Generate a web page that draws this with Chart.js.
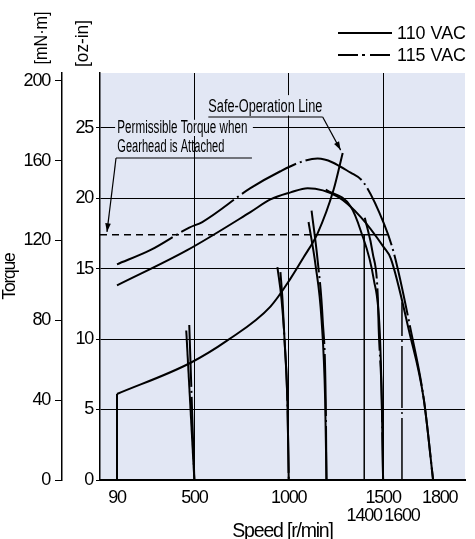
<!DOCTYPE html>
<html><head><meta charset="utf-8">
<script src="https://cdn.jsdelivr.net/npm/chart.js@4.4.0/dist/chart.umd.min.js"></script>
<style>html,body{margin:0;padding:0;background:#fff}#wrap{width:475px;height:539px;position:relative}</style>
</head><body><div id="wrap"><canvas id="c" width="475" height="539"></canvas></div>
<script>
// ---------------- data : speed [r/min] , torque [oz-in] ----------------
const speedTicks = [90, 500, 1000, 1400, 1500, 1600, 1800];
const lowerRowTicks = [1400, 1600];
const gridSpeeds = [500, 1000, 1500];
const ozTicks = [0, 5, 10, 15, 20, 25];
const mNmTicks = [0, 40, 80, 120, 160, 200];
const OZIN_TO_MNM = 7.0616;
const speedMax = 1934;
const ozMax = 28.87;

// maximum torque curves
const max110Speed  = [90, 462, 797, 903, 1010, 1100, 1259, 1382, 1504, 1541, 1637, 1716, 1765];
const max110Torque = [13.8, 16.3, 19.0, 19.9, 20.4, 20.7, 20.1, 18.65, 16.5, 15.7, 10.6, 5.7, 0];
const max115Speed  = [90, 266, 473, 542, 797, 956, 1063, 1153, 1328, 1397, 1504, 1557, 1647, 1716, 1765];
const max115Torque = [15.3, 16.3, 17.9, 18.3, 20.7, 21.9, 22.55, 22.8, 21.8, 21.1, 18.2, 16.1, 10.6, 5.7, 0];

// speed-setting lines (110 VAC solid / 115 VAC dash-dot)
const s500aSpeed = [473, 500],  s500aTorque = [11.0, 0];
const s500bSpeed = [457, 500],  s500bTorque = [10.6, 0];
const s1000aSpeed = [940, 962, 978, 994, 1000],  s1000aTorque = [15.1, 12.8, 9.9, 5.0, 0];
const s1000bSpeed = [956, 967, 978, 994, 1000],  s1000bTorque = [14.75, 12.8, 9.9, 5.0, 0];
const s1200aSpeed = [1121, 1153, 1180, 1196, 1200], s1200aTorque = [19.1, 15.6, 11.35, 5.7, 0];
const s1200bSpeed = [1105, 1142, 1174, 1193, 1200], s1200bTorque = [18.3, 15.25, 11.35, 5.7, 0];
const s1500aSpeed = [1196, 1328, 1381, 1451, 1482, 1493, 1500], s1500aTorque = [20.6, 19.4, 17.7, 14.2, 10.6, 5.7, 0];
const s1500bSpeed = [1403, 1445, 1472, 1477, 1493, 1500], s1500bTorque = [18.6, 16.1, 13.0, 10.6, 5.7, 0];
const s1400Speed = [1400, 1400], s1400Torque = [0, 17.4];
const s1600Speed = [1600, 1600], s1600Torque = [0, 12.6];

// safe-operation line
const safeSpeed  = [90, 478, 675, 903, 1010, 1079, 1153, 1238, 1286];
const safeTorque = [6.1, 8.3, 9.9, 12.3, 14.3, 15.8, 17.5, 20.6, 23.2];
const safeBaseSpeed = [90, 90], safeBaseTorque = [0, 6.1];

// permissible torque when gearhead is attached
const permDashSpeed = [0, 1135], permDashTorque = [17.4, 17.4];
const permSolidSpeed = [1135, 1525], permSolidTorque = [17.4, 17.4];

// ---------------- helpers ----------------
const FONT = "'Liberation Sans', Arial, sans-serif";
const TICK = 18;
const pts = (xs, ys) => xs.map((x, i) => ({x: x, y: ys[i]}));
const BG = '#E2E7F4';
const DASHDOT = [62, 4, 2, 4];

function ds(xs, ys, o) {
  return Object.assign({data: pts(xs, ys), borderColor: '#000', borderWidth: 2,
    pointRadius: 0, showLine: true, fill: false, tension: 0}, o || {});
}
const curve = {cubicInterpolationMode: 'monotone'};

const datasets = [
  ds(safeBaseSpeed, safeBaseTorque, {borderWidth: 2}),
  ds(safeSpeed, safeTorque, Object.assign({borderWidth: 2}, curve)),
  ds(permDashSpeed, permDashTorque, {borderWidth: 1.5, borderDash: [7, 5]}),
  ds(permSolidSpeed, permSolidTorque, {borderWidth: 1.5}),
  ds(s1400Speed, s1400Torque, {borderWidth: 1.5}),
  ds(s1600Speed, s1600Torque, {borderWidth: 1.5, borderDash: DASHDOT}),
  ds(s500aSpeed, s500aTorque, {borderWidth: 2, borderDash: DASHDOT}),
  ds(s500bSpeed, s500bTorque, {borderWidth: 2}),
  ds(s1000aSpeed, s1000aTorque, Object.assign({borderWidth: 2, borderDash: DASHDOT}, curve)),
  ds(s1000bSpeed, s1000bTorque, Object.assign({borderWidth: 2}, curve)),
  ds(s1200aSpeed, s1200aTorque, Object.assign({borderWidth: 2, borderDash: DASHDOT}, curve)),
  ds(s1200bSpeed, s1200bTorque, Object.assign({borderWidth: 2}, curve)),
  ds(s1500aSpeed, s1500aTorque, Object.assign({borderWidth: 2}, curve)),
  ds(s1500bSpeed, s1500bTorque, Object.assign({borderWidth: 2, borderDash: DASHDOT}, curve)),
  ds(max110Speed, max110Torque, Object.assign({borderWidth: 2}, curve)),
  ds(max115Speed, max115Torque, Object.assign({borderWidth: 2, borderDash: DASHDOT}, curve))
];

// text drawn horizontally squeezed to a target width
function squeezeText(ctx, text, x, y, size, width, align, rot) {
  ctx.save();
  ctx.letterSpacing = '0px';
  ctx.font = size + 'px ' + FONT;
  const w = ctx.measureText(text).width;
  const s = width ? Math.min(1.2, width / w) : 1;
  const rw = w * s;
  ctx.translate(x, y);
  if (rot) ctx.rotate(rot);
  let left = 0;
  if (align === 'right') left = -rw;
  else if (align === 'center') left = -rw / 2;
  ctx.translate(left, 0);
  ctx.scale(s, 1);
  ctx.textAlign = 'left';
  ctx.textBaseline = 'middle';
  ctx.fillStyle = '#000';
  ctx.fillText(text, 0, 0);
  ctx.restore();
  return rw;
}
function arrow(ctx, x1, y1, x2, y2) {
  ctx.beginPath(); ctx.moveTo(x1, y1); ctx.lineTo(x2, y2); ctx.stroke();
  const a = Math.atan2(y2 - y1, x2 - x1), L = 9, W = 0.32;
  ctx.beginPath();
  ctx.moveTo(x2, y2);
  ctx.lineTo(x2 - L * Math.cos(a - W), y2 - L * Math.sin(a - W));
  ctx.lineTo(x2 - L * Math.cos(a + W), y2 - L * Math.sin(a + W));
  ctx.closePath(); ctx.fill();
}

const bgPlugin = {
  id: 'bg',
  beforeDraw(chart) {
    const {ctx, chartArea: a} = chart;
    ctx.letterSpacing = '-1.2px';   // condensed look for the axis texts
    ctx.save(); ctx.fillStyle = BG;
    ctx.fillRect(a.left, a.top, a.right - a.left, a.bottom - a.top);
    ctx.restore();
  }
};

const annPlugin = {
  id: 'ann',
  afterDatasetsDraw(chart) {
    const {ctx} = chart;
    const X = v => chart.scales.x.getPixelForValue(v);
    const Y = v => chart.scales.y.getPixelForValue(v);
    ctx.save();
    ctx.strokeStyle = '#000'; ctx.lineWidth = 1.2;
    // mask behind labels
    ctx.fillStyle = BG;
    ctx.fillRect(X(80), Y(25.55), X(810) - X(80), Y(24.4) - Y(25.55));
    ctx.fillRect(X(570), Y(27.3), X(1190) - X(570), Y(25.85) - Y(27.3));
    ctx.fillStyle = '#000';
    // Safe-Operation Line label
    squeezeText(ctx, 'Safe-Operation Line', X(574), Y(26.45), 18, 114, 'left');
    ctx.beginPath(); ctx.moveTo(X(574), Y(25.75)); ctx.lineTo(X(1180), Y(25.75)); ctx.stroke();
    arrow(ctx, X(1180), Y(25.75), X(1275), Y(23.4));
    // Permissible torque label
    squeezeText(ctx, 'Permissible Torque when', X(92), Y(24.95), 18, 130, 'left');
    squeezeText(ctx, 'Gearhead is Attached', X(92), Y(23.62), 18, 107, 'left');
    ctx.beginPath(); ctx.moveTo(X(85), Y(22.84)); ctx.lineTo(X(805), Y(22.84)); ctx.stroke();
    arrow(ctx, X(85), Y(22.84), X(37), Y(17.6));
    ctx.restore();
  },
  afterDraw(chart) {
    const {ctx} = chart;
    ctx.save();
    // unit labels (rotated)
    squeezeText(ctx, '[mN\u00B7m]', 42, 38, 19, 53, 'center', -Math.PI / 2);
    squeezeText(ctx, '[oz-in]', 83, 43.5, 19, 47, 'center', -Math.PI / 2);
    // legend
    ctx.strokeStyle = '#000'; ctx.lineWidth = 2;
    ctx.beginPath(); ctx.moveTo(338, 33); ctx.lineTo(392, 33); ctx.stroke();
    ctx.setLineDash([20, 4, 3, 5]);
    ctx.beginPath(); ctx.moveTo(338, 55); ctx.lineTo(392, 55); ctx.stroke();
    ctx.setLineDash([]);
    squeezeText(ctx, '110 VAC', 397, 34, 19, 69, 'left');
    squeezeText(ctx, '115 VAC', 397, 56, 19, 69, 'left');
    ctx.restore();
  }
};

new Chart(document.getElementById('c'), {
  type: 'scatter',
  data: {datasets: datasets},
  options: {
    responsive: false, animation: false, devicePixelRatio: 1,
    layout: {padding: {top: 73, right: 10, left: 0, bottom: 0}},
    plugins: {legend: {display: false}, tooltip: {enabled: false}},
    elements: {point: {radius: 0}},
    scales: {
      x: {
        type: 'linear', min: 0, max: speedMax,
        afterFit: s => { s.height = 59; },
        afterBuildTicks: s => { s.ticks = speedTicks.map(v => ({value: v})); },
        ticks: {
          autoSkip: false, maxRotation: 0, padding: 9, color: '#000',
          font: {family: FONT, size: TICK, lineHeight: '18px'},
          callback: v => lowerRowTicks.includes(v) ? ['', String(v)] : String(v)
        },
        grid: {
          drawTicks: false, tickLength: 0, lineWidth: 1,
          color: c => (c.tick && gridSpeeds.includes(c.tick.value)) ? '#000' : 'rgba(0,0,0,0)'
        },
        border: {display: true, color: '#000', width: 2},
        title: {display: true, text: 'Speed [r/min]', color: '#000',
          font: {family: FONT, size: 19.5, lineHeight: '14px'}, padding: {top: 0, bottom: 0}}
      },
      y: {
        type: 'linear', position: 'left', weight: 0, min: 0, max: ozMax,
        afterFit: s => { s.width = 38; },
        afterBuildTicks: s => { s.ticks = ozTicks.map(v => ({value: v})); },
        ticks: {color: '#000', padding: 3, font: {family: FONT, size: TICK}},
        grid: {color: '#000', lineWidth: 1, tickLength: 4, drawTicks: true},
        border: {display: true, color: '#000', width: 1.5}
      },
      mNm: {
        type: 'linear', position: 'left', weight: 1, min: 0, max: ozMax * OZIN_TO_MNM,
        afterFit: s => { s.width = 62; },
        afterBuildTicks: s => { s.ticks = mNmTicks.map(v => ({value: v})); },
        ticks: {color: '#000', padding: 5, font: {family: FONT, size: TICK}},
        grid: {drawOnChartArea: false, color: '#000', lineWidth: 1, tickLength: 7},
        border: {display: true, color: '#000', width: 1.5},
        title: {display: true, text: 'Torque', color: '#000',
          font: {family: FONT, size: 17.5, lineHeight: 1.2}, padding: {top: 0, bottom: 0}}
      }
    }
  },
  plugins: [bgPlugin, annPlugin]
});
</script>
</body></html>
